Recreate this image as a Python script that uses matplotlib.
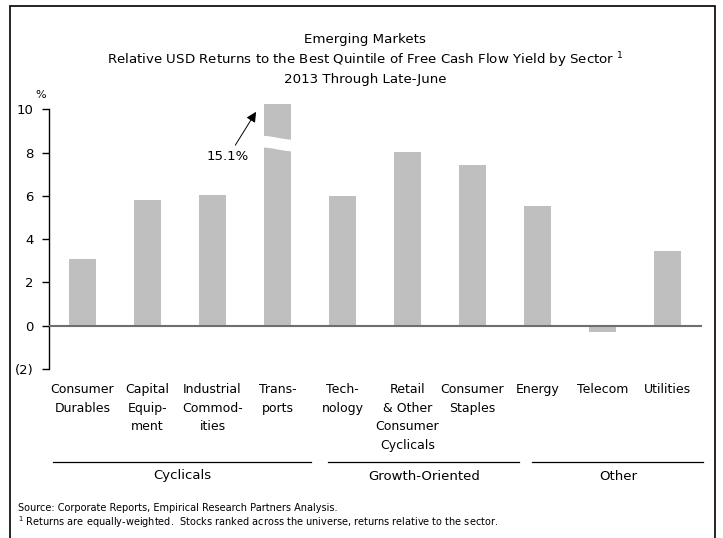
import numpy as np
import matplotlib
matplotlib.use("Agg")
import matplotlib.pyplot as plt
from matplotlib import transforms
from matplotlib.patches import Rectangle, Polygon
from matplotlib.lines import Line2D

# data
sectors = ["Consumer\nDurables", "Capital\nEquip-\nment", "Industrial\nCommod-\nities",
           "Trans-\nports", "Tech-\nnology", "Retail\n& Other\nConsumer\nCyclicals",
           "Consumer\nStaples", "Energy", "Telecom", "Utilities"]
returns = [3.1, 5.8, 6.05, 15.1, 6.0, 8.05, 7.45, 5.55, -0.28, 3.45]
groups = ["Cyclicals", "Growth-Oriented", "Other"]
group_spans = [(-0.45, 3.52), (3.78, 6.72), (6.92, 9.55)]
y_ticks = [-2, 0, 2, 4, 6, 8, 10]
y_labels = ["(2)", "0", "2", "4", "6", "8", "10"]
cap = 10.25   # where the broken Transports bar is cut off

plt.rcParams['font.family'] = ['DejaVu Sans']

fig = plt.figure(figsize=(7.23, 5.38), dpi=100)
ax = fig.add_axes([49/723, 1 - 369/538, (702-49)/723, (369-104)/538])

x = np.arange(len(sectors))
shown = [min(v, cap) for v in returns]
ax.bar(x, shown, width=0.415, color="#bfbfbf", zorder=2)
ax.axhline(0, color="#6e6e6e", lw=1.5, zorder=3)

# white wavy break through the Transports bar
i_t = int(np.argmax(returns))
t = np.linspace(0, 1, 30)
xs = i_t - 0.25 + 0.5 * t
wave = 0.09 * np.cos(np.pi * t)
upper = 8.69 + wave
lower = 8.15 + wave
pts = np.column_stack([np.r_[xs, xs[::-1]], np.r_[upper, lower[::-1]]])
ax.add_patch(Polygon(pts, closed=True, facecolor="white", edgecolor="none", zorder=4))

ax.annotate("%.1f%%" % returns[i_t], xy=(2.67, 9.89), xytext=(2.24, 7.81),
            ha="center", va="center", fontsize=9.5,
            arrowprops=dict(arrowstyle="-|>", color="black", lw=0.7,
                            mutation_scale=15, shrinkA=2, shrinkB=0))

ax.set_xlim(-0.515, 9.53)
ax.set_ylim(-2, cap)
for s in ["top", "right", "bottom"]:
    ax.spines[s].set_visible(False)
ax.spines["left"].set_bounds(-2, 10)
ax.spines["left"].set_linewidth(1.0)
ax.set_yticks(y_ticks)
ax.set_yticklabels(y_labels, fontsize=9.5)
ax.tick_params(axis="y", length=5, width=1, pad=6)
ax.set_xticks(x)
ax.set_xticklabels(sectors, fontsize=9, linespacing=1.58, va="top")
ax.tick_params(axis="x", length=0, pad=10)
fig.text(41/723, 1 - 95/538, "%", fontsize=8, ha="center", va="center")

# group underlines and names
tr = transforms.blended_transform_factory(ax.transData, fig.transFigure)
for name, (a, b) in zip(groups, group_spans):
    fig.add_artist(Line2D([a, b], [1 - 462/538] * 2, transform=tr, color="black", lw=0.9))
    fig.text((a + b) / 2, 1 - 476/538, name, transform=tr, ha="center", va="center", fontsize=9.5)

# titles
cx = 365/723
fig.text(cx, 1 - 40/538, "Emerging Markets", ha="center", va="center", fontsize=9.6)
fig.text(cx, 1 - 60/538,
         r"Relative USD Returns to the Best Quintile of Free Cash Flow Yield by Sector $^{1}$",
         ha="center", va="center", fontsize=9.6)
fig.text(cx, 1 - 80/538, "2013 Through Late-June", ha="center", va="center", fontsize=9.6)

# notes
fig.text(18/723, 1 - 508/538, "Source: Corporate Reports, Empirical Research Partners Analysis.",
         ha="left", va="center", fontsize=7)
fig.text(18/723, 1 - 522/538,
         r"$^{1}$ Returns are equally-weighted.  Stocks ranked across the universe, returns relative to the sector.",
         ha="left", va="center", fontsize=7)

# outer frame (open at the bottom edge of the picture)
fig.add_artist(Rectangle((10/723, -0.05), (715-10)/723, 1.05 - 6/538, transform=fig.transFigure,
                         fill=False, edgecolor="black", lw=1.2))

fig.savefig("out.png", dpi=100)
